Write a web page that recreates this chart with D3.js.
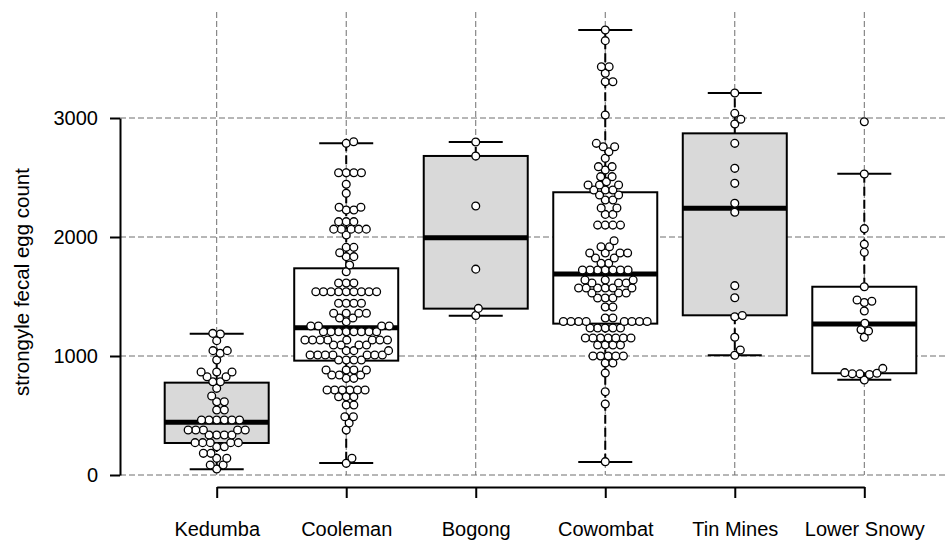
<!DOCTYPE html>
<html>
<head>
<meta charset="utf-8">
<script src="https://cdn.jsdelivr.net/npm/d3@7"></script>
<style>
  body { margin: 0; background: #ffffff; }
  text { font-family: "Liberation Sans", Arial, sans-serif; fill: #000; }
</style>
</head>
<body>
<div id="d3-chart-wrapper"></div>
<script>
/**
 * Basic Settings
 */
const canvasWidth = 947;
const canvasHeight = 541;

const sites = ["Kedumba", "Cooleman", "Bogong", "Cowombat", "Tin Mines", "Lower Snowy"];
const yTicks = [0, 1000, 2000, 3000];

// box statistics
const whiskerLow  = [48, 100, 1339, 109, 1006, 801];
const quartile1   = [269, 961, 1398, 1272, 1342, 855];
const medians     = [443, 1238, 1994, 1689, 2241, 1269];
const quartile3   = [776, 1737, 2681, 2376, 2871, 1582];
const whiskerHigh = [1187, 2787, 2798, 3739, 3210, 2532];
const boxFilled   = [true, false, true, false, true, false];

// individual egg counts
const kedumba = [1190, 1185, 1129, 1045, 1045, 1023, 966, 866, 866, 866, 826, 826, 784, 784,
  728, 664, 616, 616, 546, 546, 462, 462, 462, 462, 462, 462, 378, 378, 378, 378, 378,
  336, 336, 336, 336, 272, 272, 272, 272, 272, 238, 238, 182, 182, 140, 140, 84, 84, 50];

const cooleman = [2800, 2787, 2540, 2540, 2540, 2540, 2443, 2367, 2250, 2250, 2227, 2227,
  2129, 2129, 2129, 2066, 2066, 2066, 2066, 2066, 2017, 1913, 1913, 1868, 1835, 1835,
  1765, 1708, 1613, 1613, 1613, 1540, 1540, 1540, 1540, 1540, 1540, 1540, 1540, 1540,
  1443, 1443, 1443, 1443, 1359, 1359, 1359, 1359, 1319, 1319, 1288, 1252, 1252, 1252,
  1252, 1204, 1204, 1204, 1204, 1204, 1204, 1204, 1204, 1134, 1134, 1134, 1134,
  1134, 1134, 1134, 1134, 1092, 1092, 1092, 1092, 1045, 1045, 1045, 1008, 1008,
  1008, 1008, 1008, 1008, 1008, 966, 966, 966, 966, 882, 882, 882, 882,
  840, 840, 840, 812, 812, 714, 714, 714, 714, 714, 714, 658, 658, 658, 588, 588, 490, 490,
  437, 378, 140, 98];

const bogong = [2798, 2680, 2260, 1730, 1400, 1340];

const cowombat = [3739, 3650, 3431, 3431, 3376, 3305, 3305, 3025, 2787, 2759, 2759, 2717,
  2661, 2591, 2591, 2563, 2507, 2507, 2465, 2437, 2437, 2437, 2395, 2395, 2395, 2353, 2353,
  2311, 2311, 2244, 2244, 2190, 2190, 2100, 2100, 2100, 2100, 1969, 1918, 1918, 1865, 1865,
  1865, 1865, 1823, 1823, 1780, 1780, 1723, 1723, 1723, 1723, 1723, 1723, 1723, 1639, 1639,
  1639, 1613, 1613, 1613, 1571, 1571, 1571, 1571, 1571, 1571, 1529, 1529, 1529, 1487, 1487,
  1487, 1412, 1412, 1319, 1319, 1290, 1290, 1290, 1290, 1290, 1290, 1290, 1290,
  1235, 1235, 1235, 1235, 1235, 1151, 1151, 1151, 1151, 1151, 1151, 1151, 1092, 1092,
  1092, 1092, 1000, 1000, 1000, 1000, 1000, 941, 941, 857, 700, 597, 112];

const tinMines = [3210, 3039, 2989, 2950, 2787, 2577, 2451, 2283, 2208, 1591, 1490, 1340,
  1330, 1157, 1050, 1006];

const lowerSnowy = [2969, 2529, 2070, 1939, 1871, 1582, 1470, 1460, 1450, 1378, 1275, 1220,
  1210, 1157, 896, 860, 855, 850, 850, 845, 798];

const counts = [kedumba, cooleman, bogong, cowombat, tinMines, lowerSnowy];

const boxHalf = 52;
const capHalf = 27;
const pointR = 3.9;
const pointGap = 7.6;

/**
 * Scales
 */
const x = d3.scalePoint()
  .domain(sites)
  .range([216.7, 864.3]);

const y = d3.scaleLinear()
  .domain([0, 3000])
  .range([475, 118]);

const svg = d3.select("#d3-chart-wrapper")
  .append("svg")
  .attr("width", canvasWidth)
  .attr("height", canvasHeight)
  .style("background", "#ffffff");

/**
 * Grid lines
 */
svg.append("g")
  .selectAll("line")
  .data(yTicks)
  .join("line")
  .attr("x1", 120)
  .attr("x2", canvasWidth)
  .attr("y1", d => y(d))
  .attr("y2", d => y(d))
  .attr("stroke", "#6e6e6e")
  .attr("stroke-width", 1)
  .attr("stroke-dasharray", "6,3");

svg.append("g")
  .selectAll("line")
  .data(sites)
  .join("line")
  .attr("x1", d => x(d))
  .attr("x2", d => x(d))
  .attr("y1", 12)
  .attr("y2", y(0))
  .attr("stroke", "#6e6e6e")
  .attr("stroke-width", 1)
  .attr("stroke-dasharray", "6,3");

/**
 * Boxes and whiskers
 */
const boxes = svg.append("g")
  .selectAll("g")
  .data(sites.map((s, i) => ({
    site: s, lo: whiskerLow[i], q1: quartile1[i], med: medians[i],
    q3: quartile3[i], hi: whiskerHigh[i], filled: boxFilled[i]
  })))
  .join("g")
  .attr("transform", d => `translate(${x(d.site)},0)`);

// whisker stems
boxes.append("line")
  .attr("y1", d => y(d.q3))
  .attr("y2", d => y(d.hi))
  .attr("stroke", "#000")
  .attr("stroke-width", 2)
  .attr("stroke-dasharray", "9,4");

boxes.append("line")
  .attr("y1", d => y(d.q1))
  .attr("y2", d => y(d.lo))
  .attr("stroke", "#000")
  .attr("stroke-width", 2)
  .attr("stroke-dasharray", "9,4");

// caps
boxes.selectAll(".cap")
  .data(d => [d.lo, d.hi])
  .join("line")
  .attr("class", "cap")
  .attr("x1", -capHalf)
  .attr("x2", capHalf)
  .attr("y1", d => y(d))
  .attr("y2", d => y(d))
  .attr("stroke", "#000")
  .attr("stroke-width", 2);

boxes.append("rect")
  .attr("x", -boxHalf)
  .attr("width", boxHalf * 2)
  .attr("y", d => y(d.q3))
  .attr("height", d => y(d.q1) - y(d.q3))
  .attr("fill", d => d.filled ? "#d9d9d9" : "#ffffff")
  .attr("stroke", "#000")
  .attr("stroke-width", 2);

boxes.append("line")
  .attr("x1", -boxHalf)
  .attr("x2", boxHalf)
  .attr("y1", d => y(d.med))
  .attr("y2", d => y(d.med))
  .attr("stroke", "#000")
  .attr("stroke-width", 5);

/**
 * Beeswarm points
 */
function swarm(values) {
  const placed = [];
  values.slice().sort((a, b) => a - b).forEach(v => {
    const py = y(v);
    const near = placed.filter(p => Math.abs(p.y - py) < pointGap);
    const candidates = [0];
    near.forEach(p => {
      const dx = Math.sqrt(pointGap * pointGap - (p.y - py) * (p.y - py));
      candidates.push(p.x + dx, p.x - dx);
    });
    const ok = candidates
      .filter(cx => near.every(p => Math.hypot(p.x - cx, p.y - py) >= pointGap - 0.01))
      .sort((a, b) => Math.abs(a) - Math.abs(b) || b - a);
    placed.push({ x: ok[0], y: py, v: v });
  });
  return placed;
}

sites.forEach((s, i) => {
  svg.append("g")
    .attr("transform", `translate(${x(s)},0)`)
    .selectAll("circle")
    .data(swarm(counts[i]))
    .join("circle")
    .attr("cx", d => d.x)
    .attr("cy", d => d.y)
    .attr("r", pointR)
    .attr("fill", "#ffffff")
    .attr("stroke", "#000")
    .attr("stroke-width", 1.3);
});

/**
 * Axes
 */
const yAxis = svg.append("g")
  .attr("transform", "translate(120,0)")
  .call(d3.axisLeft(y).tickValues(yTicks).tickFormat(d3.format("d"))
    .tickSize(10).tickSizeOuter(0).tickPadding(12));

const xAxis = svg.append("g")
  .attr("transform", "translate(0,487)")
  .call(d3.axisBottom(x).tickSize(11).tickSizeOuter(0).tickPadding(24));

[yAxis, xAxis].forEach(a => {
  a.select(".domain").attr("stroke", "#000").attr("stroke-width", 2);
  a.selectAll(".tick line").attr("stroke", "#000").attr("stroke-width", 2);
  a.selectAll(".tick text")
    .style("font-size", "20px")
    .style("font-family", "'Liberation Sans', Arial, sans-serif")
    .attr("fill", "#000");
});

svg.append("text")
  .attr("transform", "translate(29,282) rotate(-90)")
  .attr("text-anchor", "middle")
  .style("font-size", "20.5px")
  .text("strongyle fecal egg count");
</script>
</body>
</html>
